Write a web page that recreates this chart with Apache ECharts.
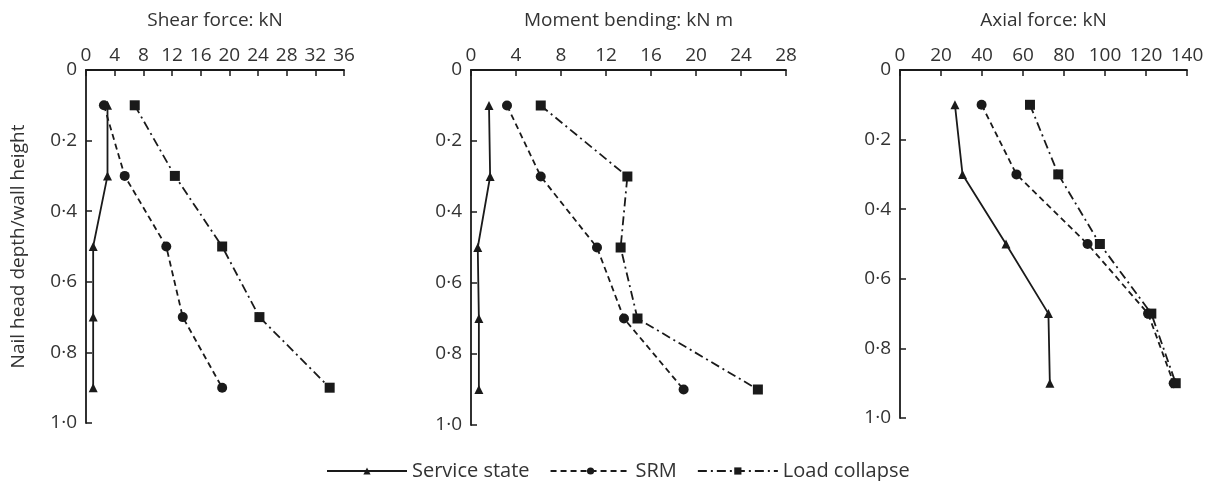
<!DOCTYPE html>
<html><head><meta charset="utf-8">
<script src="https://cdn.jsdelivr.net/npm/echarts@6/dist/echarts.min.js"></script>
<style>html,body{margin:0;padding:0;background:#fff}#c{width:1216px;height:481px}</style>
</head><body><div id="c"></div>
<script>
const depth = [0.1, 0.3, 0.5, 0.7, 0.9];
const shearService = [3.0, 3.0, 1.0, 1.0, 1.0];
const shearSRM = [2.5, 5.4, 11.2, 13.5, 19.0];
const shearLoad = [6.8, 12.4, 19.0, 24.2, 34.0];
const momentService = [1.6, 1.7, 0.6, 0.7, 0.7];
const momentSRM = [3.2, 6.2, 11.2, 13.6, 18.9];
const momentLoad = [6.2, 13.9, 13.3, 14.8, 25.5];
const axialService = [26.8, 30.5, 51.7, 72.4, 73.1];
const axialSRM = [39.8, 56.8, 91.5, 121.0, 133.5];
const axialLoad = [63.4, 77.2, 97.5, 122.6, 134.5];
const panelTitles = ['Shear force: kN', 'Moment bending: kN m', 'Axial force: kN'];
const xMax = [36, 28, 140];
const xInterval = [4, 4, 20];
const yName = 'Nail head depth/wall height';
const seriesNames = ['Service state', 'SRM', 'Load collapse'];

const FONT = 'Open Sans';
const TXT = '#333';
const INK = '#1a1a1a';
const grids = [
  {left: 86, top: 70, width: 258, height: 353},
  {left: 471, top: 70, width: 315, height: 355},
  {left: 900, top: 70, width: 287, height: 348}
];
const lineTypes = ['solid', [6, 4], [9, 4, 2, 4]];
const symbols = ['triangle', 'circle', 'rect'];
const symSizes = [9, 10, 10];
const panelData = [
  [shearService, shearSRM, shearLoad],
  [momentService, momentSRM, momentLoad],
  [axialService, axialSRM, axialLoad]
];

const xAxis = [], yAxis = [], series = [];
for (let p = 0; p < 3; p++) {
  xAxis.push({
    gridIndex: p, type: 'value', position: 'top', min: 0, max: xMax[p], interval: xInterval[p],
    name: panelTitles[p], nameLocation: 'middle', nameGap: 40,
    nameTextStyle: {fontFamily: FONT, fontSize: 19, color: TXT},
    axisLine: {show: true, lineStyle: {color: INK, width: 1.8}},
    axisTick: {show: true, inside: true, length: 6, lineStyle: {color: INK, width: 1.5}},
    axisLabel: {fontFamily: FONT, fontSize: 19, color: TXT, margin: 5},
    splitLine: {show: false}
  });
  yAxis.push({
    gridIndex: p, type: 'value', inverse: true, min: 0, max: 1, interval: 0.2,
    name: p === 0 ? yName : '', nameLocation: 'middle', nameGap: 58, nameRotate: 90,
    nameTextStyle: {fontFamily: FONT, fontSize: 19, color: TXT},
    axisLine: {show: true, onZero: false, lineStyle: {color: INK, width: 1.8}},
    axisTick: {show: true, inside: true, length: 6, lineStyle: {color: INK, width: 1.5}},
    axisLabel: {fontFamily: FONT, fontSize: 19, color: TXT, margin: 9,
      formatter: v => v === 0 ? '0' : v.toFixed(1).replace('.', '\u00B7')},
    splitLine: {show: false}
  });
  for (let s = 0; s < 3; s++) {
    series.push({
      name: seriesNames[s], type: 'line', xAxisIndex: p, yAxisIndex: p,
      data: panelData[p][s].map((v, i) => [v, depth[i]]),
      symbol: symbols[s], symbolSize: symSizes[s],
      lineStyle: {color: INK, width: 1.8, type: lineTypes[s]},
      itemStyle: {color: INK},
      animation: false, silent: true
    });
  }
}

const chart = echarts.init(document.getElementById('c'), null, {renderer: 'canvas'});
chart.setOption({
  backgroundColor: '#fff',
  animation: false,
  grid: grids,
  xAxis, yAxis, series,
  legend: {
    top: 456, left: 321, itemWidth: 80, itemHeight: 9, itemGap: 20,
    textStyle: {fontFamily: FONT, fontSize: 20, color: TXT, padding: [0, 0, 0, 0]},
    data: seriesNames
  }
});
</script></body></html>
